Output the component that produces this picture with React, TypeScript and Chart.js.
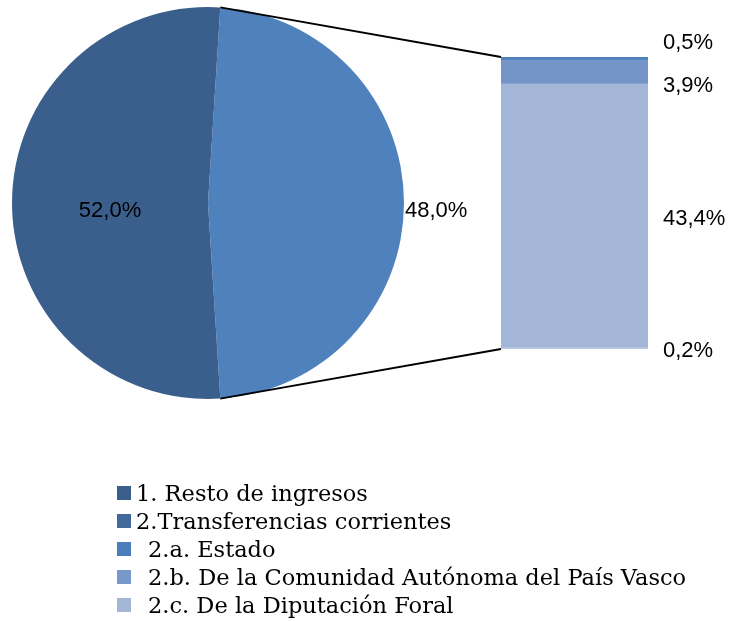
import React, { useEffect, useRef } from "react";
import { Chart, registerables } from "chart.js";

Chart.register(...registerables);

const pieLabels = ["2.Transferencias corrientes", "1. Resto de ingresos"];
const pieValues = [48.0, 52.0];
const pieColors = ["#4F81BD", "#3B5F8C"];

// bar segments, listed bottom to top
const barLabels = ["2.d", "2.c. De la Diputación Foral", "2.b. De la Comunidad Autónoma del País Vasco", "2.a. Estado"];
const barValues = [0.2, 43.4, 3.9, 0.5];
const barColors = ["#BACAE3", "#A3B6D7", "#7395C8", "#4F81BD"];
const barTextOffsets = [3, 3, 14, -16];

const legendLabels = [
  "1. Resto de ingresos",
  "2.Transferencias corrientes",
  "2.a. Estado",
  "2.b. De la Comunidad Autónoma del País Vasco",
  "2.c. De la Diputación Foral",
];
const legendColors = ["#3A5F8B", "#41699A", "#4A7DBA", "#7898C9", "#A4B6D6"];
const legendIndent = [0, 0, 1, 1, 1];

const fmt = (v: number) => v.toFixed(1).replace(".", ",") + "%";
const LABEL_FONT = "22px 'Liberation Sans', Arial, sans-serif";

export default function App() {
  const pieRef = useRef<HTMLCanvasElement>(null);
  const barRef = useRef<HTMLCanvasElement>(null);
  const lineRef = useRef<HTMLCanvasElement>(null);

  useEffect(() => {
    const pieLabelPlugin = {
      id: "pieLabels",
      afterDatasetsDraw(chart: any) {
        const ctx = chart.ctx;
        const meta = chart.getDatasetMeta(0);
        ctx.save();
        ctx.font = LABEL_FONT;
        ctx.fillStyle = "#000";
        ctx.textBaseline = "middle";
        meta.data.forEach((arc: any, i: number) => {
          const p = arc.getProps(["x", "y", "startAngle", "endAngle", "outerRadius"], true);
          const mid = (p.startAngle + p.endAngle) / 2;
          if (i === 0) {
            ctx.textAlign = "left";
            ctx.fillText(fmt(pieValues[i]), p.x + Math.cos(mid) * p.outerRadius + 1, p.y + Math.sin(mid) * p.outerRadius + 8);
          } else {
            ctx.textAlign = "center";
            ctx.fillText(fmt(pieValues[i]), p.x + Math.cos(mid) * p.outerRadius * 0.5, p.y + Math.sin(mid) * p.outerRadius + 8);
          }
        });
        ctx.restore();
      },
    };

    const pie = new Chart(pieRef.current!, {
      type: "pie",
      data: {
        labels: pieLabels,
        datasets: [{ data: pieValues, backgroundColor: pieColors, borderWidth: 0 }],
      },
      options: {
        responsive: false,
        animation: false,
        rotation: 3.6,
        layout: { padding: { left: 4, top: 4, bottom: 4, right: 84 } },
        plugins: { legend: { display: false }, tooltip: { enabled: false } },
      },
      plugins: [pieLabelPlugin],
    });

    const barLabelPlugin = {
      id: "barLabels",
      afterDatasetsDraw(chart: any) {
        const ctx = chart.ctx;
        ctx.save();
        ctx.font = LABEL_FONT;
        ctx.fillStyle = "#000";
        ctx.textBaseline = "middle";
        ctx.textAlign = "left";
        chart.data.datasets.forEach((ds: any, i: number) => {
          const el = chart.getDatasetMeta(i).data[0];
          const p = el.getProps(["y", "base"], true);
          const cy = (p.y + p.base) / 2;
          ctx.fillText(fmt(ds.data[0]), chart.chartArea.right + 15, cy + barTextOffsets[i]);
        });
        ctx.restore();
      },
    };

    const bar = new Chart(barRef.current!, {
      type: "bar",
      data: {
        labels: [""],
        datasets: barValues.map((v, i) => ({
          label: barLabels[i],
          data: [v],
          backgroundColor: barColors[i],
          borderWidth: 0,
          barPercentage: 1,
          categoryPercentage: 1,
        })),
      },
      options: {
        responsive: false,
        animation: false,
        layout: { padding: { left: 0, top: 37, right: 83, bottom: 21 } },
        scales: {
          x: { stacked: true, display: false },
          y: { stacked: true, display: false, min: 0, max: barValues.reduce((a, b) => a + b, 0) },
        },
        plugins: { legend: { display: false }, tooltip: { enabled: false } },
      },
      plugins: [barLabelPlugin],
    });

    // connector lines
    const lc = lineRef.current!;
    const lctx = lc.getContext("2d")!;
    lctx.clearRect(0, 0, lc.width, lc.height);
    const pieRect = pieRef.current!.getBoundingClientRect();
    const barRect = barRef.current!.getBoundingClientRect();
    const arc: any = pie.getDatasetMeta(0).data[0];
    const ap = arc.getProps(["x", "y", "startAngle", "endAngle", "outerRadius"], true);
    const topSeg: any = bar.getDatasetMeta(barValues.length - 1).data[0];
    const botSeg: any = bar.getDatasetMeta(0).data[0];
    const tp = topSeg.getProps(["x", "y", "width"], true);
    const bp = botSeg.getProps(["x", "base", "width"], true);
    const sx = pieRect.left + window.scrollX;
    const sy = pieRect.top + window.scrollY;
    const bx = barRect.left + window.scrollX;
    const by = barRect.top + window.scrollY;
    const p1 = { x: sx + ap.x + Math.cos(ap.startAngle) * ap.outerRadius, y: sy + ap.y + Math.sin(ap.startAngle) * ap.outerRadius };
    const p2 = { x: sx + ap.x + Math.cos(ap.endAngle) * ap.outerRadius, y: sy + ap.y + Math.sin(ap.endAngle) * ap.outerRadius };
    const q1 = { x: bx + tp.x - tp.width / 2, y: by + tp.y };
    const q2 = { x: bx + bp.x - bp.width / 2, y: by + bp.base };
    lctx.strokeStyle = "#000";
    lctx.lineWidth = 2;
    lctx.beginPath();
    lctx.moveTo(p1.x, p1.y);
    lctx.lineTo(q1.x, q1.y);
    lctx.moveTo(p2.x, p2.y);
    lctx.lineTo(q2.x, q2.y);
    lctx.stroke();

    return () => {
      pie.destroy();
      bar.destroy();
    };
  }, []);

  return (
    <div>
      <canvas ref={pieRef} width={480} height={400} style={{ position: "absolute", left: 8, top: 3 }} />
      <canvas ref={barRef} width={230} height={350} style={{ position: "absolute", left: 501, top: 20 }} />
      <canvas ref={lineRef} width={734} height={621} style={{ position: "absolute", left: 0, top: 0, pointerEvents: "none" }} />
      <div
        style={{
          position: "absolute",
          left: 117,
          top: 479,
          fontFamily: "'DejaVu Serif', 'Liberation Serif', serif",
          fontSize: 22.5,
          lineHeight: "28px",
          color: "#000",
        }}
      >
        {legendLabels.map((l, i) => (
          <div key={i} style={{ display: "flex", alignItems: "center", whiteSpace: "nowrap" }}>
            <span style={{ display: "inline-block", width: 14, height: 14, background: legendColors[i], marginRight: legendIndent[i] ? 17 : 5 }} />
            <span>{l}</span>
          </div>
        ))}
      </div>
    </div>
  );
}
